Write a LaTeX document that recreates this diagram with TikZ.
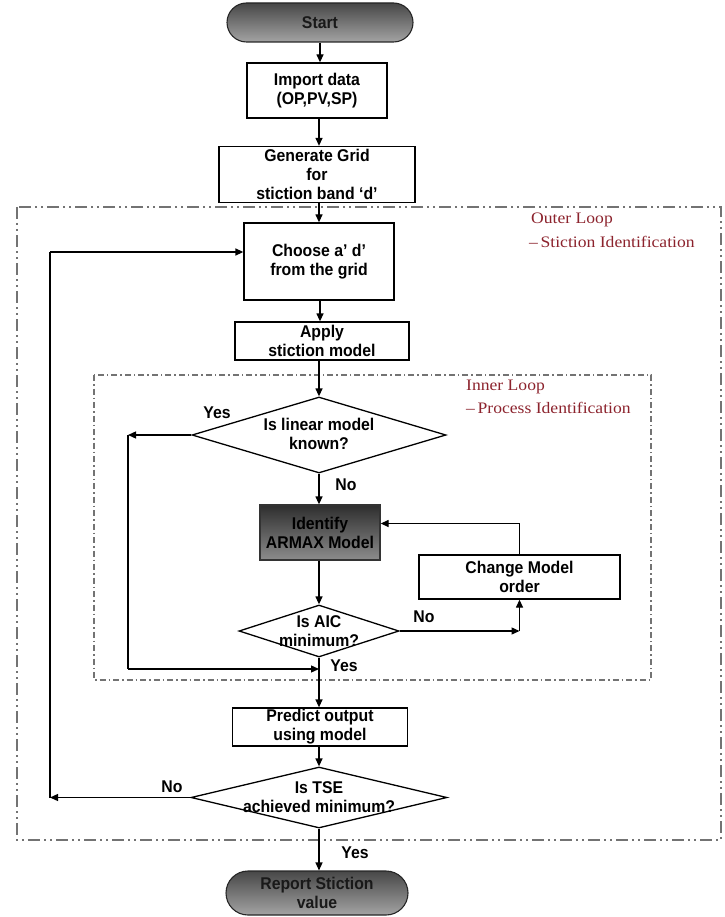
\documentclass[tikz,border=0pt]{standalone}
\usepackage{fontspec}
\setmainfont{Liberation Sans}[FakeStretch=0.93]
\newfontfamily\lblfont{Liberation Serif}[FakeStretch=1.1]
\usetikzlibrary{arrows.meta,shapes.geometric,calc}
\definecolor{lblred}{RGB}{140,35,45}
\begin{document}
\begin{tikzpicture}[x=1pt,y=-1pt,
  every node/.style={font=\bfseries\fontsize{17}{19}\selectfont, align=center, inner sep=0pt},
  box/.style={draw=black, line width=1.3pt, fill=white},
  term/.style={draw=black!85, line width=1.1pt, top color=black!72, bottom color=black!36, text=black!90},
  dia/.style={diamond, draw=black, line width=1.3pt, fill=white, inner sep=0pt},
  arr/.style={line width=1.3pt, -{Triangle[length=8pt,width=7pt]}},
  ln/.style={line width=1.3pt},
  outerloop/.style={draw=black!55, line width=1.3pt, dash pattern=on 12pt off 4pt on 2pt off 4pt on 2pt off 4pt},
  innerloop/.style={draw=black!55, line width=1.2pt, dash pattern=on 6pt off 3pt on 1.5pt off 3pt},
  loopname/.style={font=\lblfont\fontsize{16}{18}\selectfont, text=lblred, anchor=west}
]
\useasboundingbox (0,0) rectangle (724,917);

% loop frames
\draw[outerloop] (17,207) rectangle (721,840);
\draw[innerloop] (94,375) rectangle (651,680);
\node[loopname] (ol1) at (531,220) {Outer Loop};
\node[loopname] (ol2) at (529,242) {\textendash\,Stiction Identification};
\node[loopname] (il1) at (466,387) {Inner Loop};
\node[loopname] (il2) at (466,408) {\textendash\,Process Identification};

% main column
\node[term, rounded corners=19.5pt, minimum width=186pt, minimum height=39pt] (start) at (320,22.5) {Start};
\node[box, minimum width=140pt, minimum height=55pt] (imp) at (317,90.5) {Import data\\(OP,PV,SP)};
\node[box, minimum width=196pt, minimum height=56pt] (gen) at (317,174.5) {Generate Grid\\for\\stiction band ‘d’};
\node[box, minimum width=150pt, minimum height=77pt] (choose) at (319,261.5) {Choose a’ d’\\from the grid};
\node[box, minimum width=174pt, minimum height=38pt] (apply) at (322,341) {Apply\\stiction model};

\node[dia, minimum width=254pt, minimum height=76pt] (d1) at (319,435) {};
\node (d1t) at (319,434) {Is linear model\\known?};

\node[box, draw=black!80, top color=black!82, bottom color=black!45, minimum width=120pt, minimum height=55pt] (armax) at (320,532.5) {Identify\\ARMAX Model};
\node[box, minimum width=201pt, minimum height=44pt] (change) at (519.5,577) {Change Model\\order};

\node[dia, minimum width=160pt, minimum height=52pt] (d2) at (319,631) {};
\node (d2t) at (319,631) {Is AIC\\minimum?};

\node[box, minimum width=175pt, minimum height=38pt] (pred) at (320,727) {Predict output\\using model};

\node[dia, minimum width=256pt, minimum height=61pt] (d3) at (319,797.5) {};
\node (d3t) at (319,797.5) {Is TSE\\achieved minimum?};

\node[term, rounded corners=22pt, minimum width=182pt, minimum height=44pt] (rep) at (317,893) {Report Stiction\\value};

% labels
\node (yes1) at (217,413) {Yes};
\node (no1) at (346,485) {No};
\node (no2) at (424,617) {No};
\node (yes2) at (344,666) {Yes};
\node (no3) at (172,787) {No};
\node (yes3) at (355,853) {Yes};

% coordinates
\coordinate (yL) at (128,435);
\coordinate (yB) at (128,669);
\coordinate (fbB) at (50,797.5);
\coordinate (fbT) at (50,252);

% connectors
\draw[arr] (start.south -| 320,0) -- (320,0 |- imp.north);
\draw[arr] (imp.south -| 319,0) -- (319,0 |- gen.north);
\draw[arr] (gen.south -| 319,0) -- (319,0 |- choose.north);
\draw[arr] (choose.south -| 320,0) -- (320,0 |- apply.north);
\draw[arr] (apply.south -| 319,0) -- (d1.north);
\draw[arr] (d1.south) -- (armax.north -| d1.south);
\draw[arr] (armax.south -| d2.north) -- (d2.north);
\draw[arr] (d1.west) -- (yL);
\draw[ln] (yL) -- (yB);
\draw[arr] (yB) -- (yB -| d2.south);
\draw[arr] (d2.east) -- (d2.east -| change.south);
\draw[arr] (d2.east -| change.south) -- (change.south);
\draw[arr] (change.north) |- ([yshift=9pt]armax.east);
\draw[arr] (d2.south) -- (d2.south |- pred.north);
\draw[arr] (pred.south -| d3.north) -- (d3.north);
\draw[arr] (d3.west) -- (fbB);
\draw[ln] (fbB) -- (fbT);
\draw[arr] (fbT) -- (fbT -| choose.west);
\draw[arr] (d3.south) -- (d3.south |- rep.north);
\end{tikzpicture}
\end{document}
